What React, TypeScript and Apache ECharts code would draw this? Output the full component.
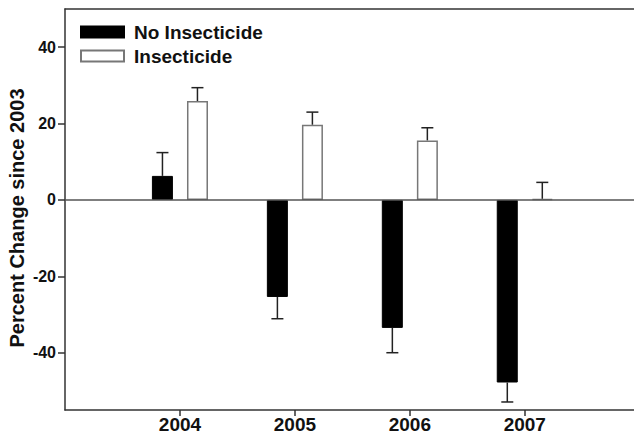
import React, { useEffect, useRef } from "react";
import * as echarts from "echarts";

const categories = ["2004", "2005", "2006", "2007"];
const noInsecticide = [6.3, -25.4, -33.5, -47.8];
const noInsecticideErr = [6.1, 5.7, 6.5, 5.1];
const insecticide = [25.9, 19.7, 15.6, 0.3];
const insecticideErr = [3.5, 3.3, 3.3, 4.3];
const yTicks = [-40, -20, 0, 20, 40];
const xPositions = [1, 2, 3, 4];

const FONT = "'Liberation Sans', Arial, Helvetica, sans-serif";

export default function App() {
  const ref = useRef<HTMLDivElement>(null);
  useEffect(() => {
    if (!ref.current) return;
    const chart = echarts.init(ref.current, null, { renderer: "svg" });

    const errSeries = (name: string, vals: number[], errs: number[], offset: number) => ({
      type: "custom",
      name,
      coordinateSystem: "cartesian2d",
      silent: true,
      z: 5,
      encode: { x: 0, y: 1 },
      data: vals.map((v, i) => [xPositions[i], v, errs[i]]),
      renderItem: (params: any, api: any) => {
        const x = api.value(0);
        const v = api.value(1);
        const e = api.value(2);
        const s = v >= 0 ? 1 : -1;
        const p0 = api.coord([x, v]);
        const p1 = api.coord([x, v + s * e]);
        const cx = p0[0] + offset;
        const style = { stroke: "#222", lineWidth: 1.5 };
        return {
          type: "group",
          children: [
            { type: "line", shape: { x1: cx, y1: p0[1], x2: cx, y2: p1[1] }, style },
            { type: "line", shape: { x1: cx - 6, y1: p1[1], x2: cx + 6, y2: p1[1] }, style },
          ],
        };
      },
    });

    chart.setOption({
      animation: false,
      backgroundColor: "#fff",
      grid: {
        left: 65,
        top: 9,
        bottom: 28,
        right: 0,
        show: false,
        containLabel: false,
        outerBoundsMode: "none",
      },
      legend: {
        data: ["No Insecticide", "Insecticide"],
        orient: "vertical",
        left: 75,
        top: 17,
        itemWidth: 43,
        itemHeight: 11,
        itemGap: 4,
        icon: "rect",
        textStyle: {
          fontFamily: FONT,
          fontWeight: "bold",
          fontSize: 19,
          color: "#111",
          lineHeight: 20,
          padding: [0, 0, 0, 5],
        },
      },
      graphic: [
        {
          type: "text",
          x: 17,
          y: 218,
          rotation: Math.PI / 2,
          style: {
            text: "Percent Change since 2003",
            font: `bold 20px ${FONT}`,
            fill: "#111",
            textAlign: "center",
            textVerticalAlign: "middle",
          },
        },
      ],
      xAxis: [
        {
          type: "value",
          min: 0,
          max: 4.95,
          splitLine: { show: false },
          axisLine: { onZero: false, lineStyle: { color: "#333", width: 1.5 } },
          axisTick: {
            customValues: xPositions,
            length: 6,
            lineStyle: { color: "#333", width: 1.5 },
          },
          axisLabel: {
            customValues: xPositions,
            formatter: (v: number) => categories[Math.round(v) - 1] ?? "",
            fontFamily: FONT,
            fontWeight: "bold",
            fontSize: 19,
            color: "#111",
            margin: 5,
          },
        },
        {
          type: "value",
          position: "top",
          min: 0,
          max: 4.95,
          splitLine: { show: false },
          axisLine: { show: true, onZero: false, lineStyle: { color: "#333", width: 1.5 } },
          axisTick: { show: false },
          axisLabel: { show: false },
        },
      ],
      yAxis: {
        type: "value",
        min: -55,
        max: 50,
        splitLine: { show: false },
        axisLine: { show: true, onZero: false, lineStyle: { color: "#333", width: 1.5 } },
        axisTick: {
          show: true,
          customValues: yTicks,
          length: 7,
          lineStyle: { color: "#333", width: 1.5 },
        },
        axisLabel: {
          customValues: yTicks,
          fontFamily: FONT,
          fontWeight: "bold",
          fontSize: 16,
          color: "#111",
          margin: 9,
        },
      },
      series: [
        {
          type: "bar",
          name: "No Insecticide",
          barWidth: 21,
          barGap: "67%",
          data: noInsecticide.map((v, i) => [xPositions[i], v]),
          itemStyle: { color: "#000", borderColor: "#000", borderWidth: 1 },
          markLine: {
            silent: true,
            symbol: ["none", "none"],
            label: { show: false },
            lineStyle: { type: "solid", color: "#555", width: 1.5 },
            data: [{ yAxis: 0 }],
          },
        },
        {
          type: "bar",
          name: "Insecticide",
          barWidth: 21,
          barGap: "67%",
          data: insecticide.map((v, i) => [xPositions[i], v]),
          itemStyle: { color: "#fff", borderColor: "#777", borderWidth: 1.5 },
        },
        errSeries("No Insecticide err", noInsecticide, noInsecticideErr, -17.5),
        errSeries("Insecticide err", insecticide, insecticideErr, 17.5),
      ],
    });
    return () => chart.dispose();
  }, []);
  return (
    <div
      ref={ref}
      style={{ position: "fixed", left: 0, top: 0, width: 634, height: 438 }}
    />
  );
}
